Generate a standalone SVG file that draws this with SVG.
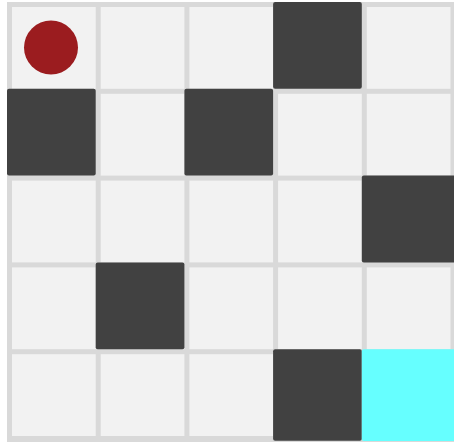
<svg xmlns="http://www.w3.org/2000/svg" width="454" height="442" viewBox="0 0 454 442">
<style>
.lt{fill:#f2f2f2}
.dk{fill:#414141}
.gl{fill:#393939}
.goal{fill:#66ffff}
</style>
<rect x="0" y="0" width="454" height="442" fill="#ffffff"/>
<g id="grid">
<rect x="7" y="2" width="447" height="440" fill="#d9d9d9"/>
<rect class="lt" x="12" y="7" width="83.7" height="81.8"/>
<rect class="lt" x="100.7" y="7" width="83.7" height="81.8"/>
<rect class="lt" x="189.4" y="7" width="83.7" height="81.8"/>
<rect class="lt" x="366.8" y="7" width="83.7" height="81.8"/>
<rect class="lt" x="100.7" y="93.8" width="83.7" height="81.8"/>
<rect class="lt" x="278.1" y="93.8" width="83.7" height="81.8"/>
<rect class="lt" x="366.8" y="93.8" width="83.7" height="81.8"/>
<rect class="lt" x="12" y="180.6" width="83.7" height="81.8"/>
<rect class="lt" x="100.7" y="180.6" width="83.7" height="81.8"/>
<rect class="lt" x="189.4" y="180.6" width="83.7" height="81.8"/>
<rect class="lt" x="278.1" y="180.6" width="83.7" height="81.8"/>
<rect class="lt" x="12" y="267.4" width="83.7" height="81.8"/>
<rect class="lt" x="189.4" y="267.4" width="83.7" height="81.8"/>
<rect class="lt" x="278.1" y="267.4" width="83.7" height="81.8"/>
<rect class="lt" x="366.8" y="267.4" width="83.7" height="81.8"/>
<rect class="lt" x="12" y="354.2" width="83.7" height="81.8"/>
<rect class="lt" x="100.7" y="354.2" width="83.7" height="81.8"/>
<rect class="lt" x="189.4" y="354.2" width="83.7" height="81.8"/>
</g>
<g id="walls">
<rect class="dk" x="273.1" y="2" width="88.7" height="86.8" rx="2"/>
<rect class="dk" x="7" y="88.8" width="88.7" height="86.8" rx="2"/>
<rect class="dk" x="184.4" y="88.8" width="88.7" height="86.8" rx="2"/>
<rect class="dk" x="361.8" y="175.6" width="94" height="86.8" rx="2"/>
<rect class="dk" x="95.7" y="262.4" width="88.7" height="86.8" rx="2"/>
<rect class="dk" x="273.1" y="349.2" width="88.7" height="91.6" rx="2"/>
</g>
<g id="goal">
<rect class="goal" x="361.8" y="349.2" width="94" height="91.8" rx="2"/>
</g>
<g id="agent">
<circle cx="51" cy="47.5" r="27" fill="#9b1c1f"/>
</g>
</svg>
